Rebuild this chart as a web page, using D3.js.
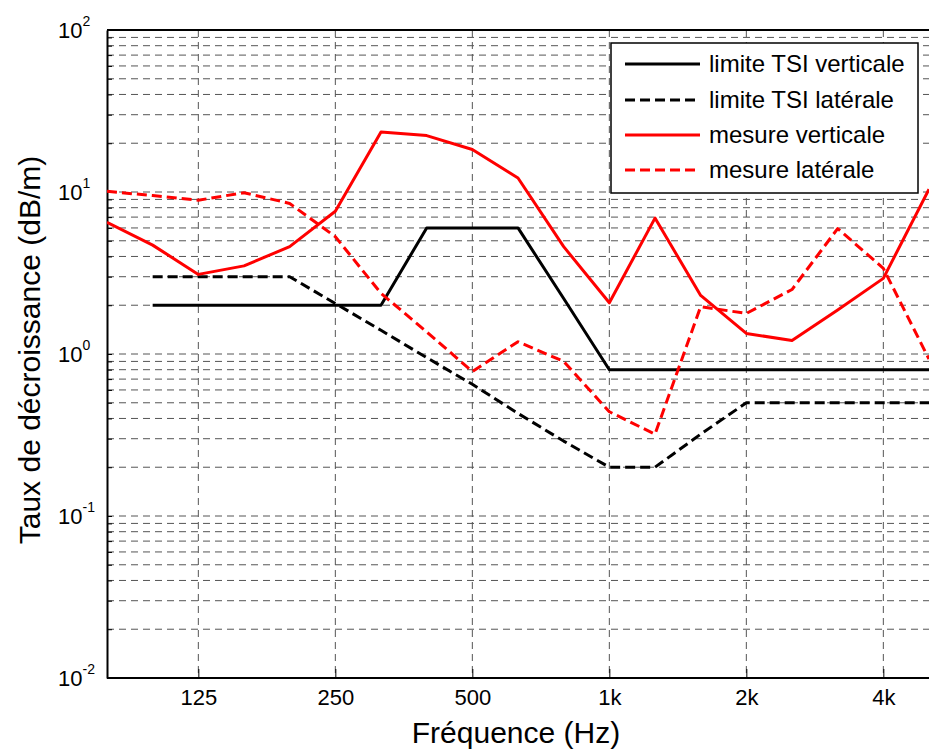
<!DOCTYPE html>
<html>
<head>
<meta charset="utf-8">
<script src="https://cdn.jsdelivr.net/npm/d3@7"></script>
<style>
body { margin: 0; background: #fff; }
text { font-family: "Liberation Sans", Arial, sans-serif; fill: #000; }
</style>
</head>
<body>
<div id="chart"></div>
<script>
// third-octave bands (Hz) and decay rates (dB/m)
const bands = [80, 100, 125, 160, 200, 250, 315, 400, 500, 630, 800, 1000, 1250, 1600, 2000, 2500, 3150, 4000, 5000];
const limiteVert = [null, 2, 2, 2, 2, 2, 2, 6, 6, 6, 2.2, 0.8, 0.8, 0.8, 0.8, 0.8, 0.8, 0.8, 0.8];
const limiteLat = [null, 3, 3, 3, 3, 2.05, 1.4, 0.95, 0.65, 0.43, 0.29, 0.2, 0.2, 0.32, 0.5, 0.5, 0.5, 0.5, 0.5];
const mesureVert = [6.5, 4.7, 3.1, 3.5, 4.6, 7.6, 23.5, 22.3, 18.3, 12.2, 4.6, 2.07, 6.9, 2.3, 1.34, 1.21, 1.87, 2.93, 10.4];
const mesureLat = [10.1, 9.5, 8.9, 9.9, 8.5, 5.3, 2.37, 1.37, 0.78, 1.19, 0.9, 0.44, 0.32, 1.96, 1.78, 2.5, 5.95, 3.38, 0.93];
const xTicks = [125, 250, 500, 1000, 2000, 4000];
const xTickLabels = ["125", "250", "500", "1k", "2k", "4k"];
const yExponents = [-2, -1, 0, 1, 2];
const seriesNames = ["limite TSI verticale", "limite TSI latérale", "mesure verticale", "mesure latérale"];

const width = 929, height = 753;
const plotLeft = 107, plotRight = 929, plotTop = 30, plotBottom = 678;

// nominal band -> exact third-octave centre
const exact = f => 1000 * Math.pow(2, Math.round(3 * Math.log2(f / 1000)) / 3);

const svg = d3.select("#chart").append("svg")
    .attr("width", width)
    .attr("height", height);

const x = d3.scaleLog().domain([exact(80), exact(5000)]).range([plotLeft, plotRight]);
const y = d3.scaleLog().domain([0.01, 100]).range([plotBottom, plotTop]);

svg.append("defs").append("clipPath").attr("id", "plot")
    .append("rect").attr("x", plotLeft).attr("y", plotTop - 2)
    .attr("width", plotRight - plotLeft + 2).attr("height", plotBottom - plotTop + 4);

// grid values: every 1..9 x 10^k
const gridVals = [];
yExponents.slice(0, -1).forEach(e => {
    for (let m = 1; m <= 9; m++) gridVals.push(m * Math.pow(10, e));
});

svg.append("g").selectAll("line")
    .data(gridVals.filter(v => v > 0.01))
    .enter().append("line")
    .attr("x1", plotLeft).attr("x2", plotRight)
    .attr("y1", d => y(d)).attr("y2", d => y(d))
    .attr("stroke", "#555")
    .attr("stroke-width", 1)
    .attr("stroke-dasharray", "7,5");

svg.append("g").selectAll("line")
    .data(xTicks)
    .enter().append("line")
    .attr("x1", d => x(d)).attr("x2", d => x(d))
    .attr("y1", plotTop).attr("y2", plotBottom)
    .attr("stroke", "#555")
    .attr("stroke-width", 1)
    .attr("stroke-dasharray", "7,5");

// axes
const xAxis = d3.axisBottom(x)
    .tickValues(xTicks)
    .tickFormat((d, i) => xTickLabels[i])
    .tickSize(-9)
    .tickPadding(11);

svg.append("g")
    .attr("transform", `translate(0,${plotBottom})`)
    .call(xAxis)
    .call(g => g.select(".domain").attr("stroke", "#000").attr("stroke-width", 2).attr("d", `M${plotLeft},0H${plotRight}`))
    .call(g => g.selectAll(".tick text").style("font-size", "22px").style("font-family", "Liberation Sans, Arial, sans-serif"));

const yAxis = d3.axisLeft(y)
    .tickValues(gridVals.concat([100]))
    .tickFormat("")
    .tickSizeInner(-5)
    .tickSizeOuter(0);

svg.append("g")
    .attr("transform", `translate(${plotLeft},0)`)
    .call(yAxis)
    .call(g => g.select(".domain").attr("stroke", "#000").attr("stroke-width", 2));

svg.append("line")
    .attr("x1", plotLeft).attr("x2", plotRight)
    .attr("y1", plotTop).attr("y2", plotTop)
    .attr("stroke", "#000").attr("stroke-width", 2);

// y tick labels 10^k
const yLab = svg.append("g").selectAll("text")
    .data(yExponents)
    .enter().append("text")
    .attr("x", 58)
    .attr("y", d => y(Math.pow(10, d)) + 8)
    .style("font-size", "22px");
yLab.append("tspan").text("10");
yLab.append("tspan").attr("dy", -12).style("font-size", "14px").text(d => d);

// series
const line = d3.line()
    .defined(d => d.v != null)
    .x(d => x(exact(d.f)))
    .y(d => y(d.v));

const series = [
    { name: seriesNames[0], values: limiteVert, color: "#000", dash: null },
    { name: seriesNames[1], values: limiteLat, color: "#000", dash: "10,5" },
    { name: seriesNames[2], values: mesureVert, color: "#ff0000", dash: null },
    { name: seriesNames[3], values: mesureLat, color: "#ff0000", dash: "10,5" }
];

svg.append("g").attr("clip-path", "url(#plot)")
    .selectAll("path")
    .data(series)
    .enter().append("path")
    .attr("d", s => line(bands.map((f, i) => ({ f: f, v: s.values[i] }))))
    .attr("fill", "none")
    .attr("stroke", s => s.color)
    .attr("stroke-width", 3)
    .attr("stroke-linejoin", "round")
    .attr("stroke-dasharray", s => s.dash);

// axis titles
svg.append("text")
    .attr("x", 516).attr("y", 743)
    .attr("text-anchor", "middle")
    .style("font-size", "30px")
    .text("Fréquence (Hz)");

svg.append("text")
    .attr("transform", "translate(29,350) rotate(-90)")
    .attr("text-anchor", "middle")
    .attr("dy", "0.35em")
    .style("font-size", "30px")
    .text("Taux de décroissance (dB/m)");

// legend
const legend = svg.append("g");
legend.append("rect")
    .attr("x", 611).attr("y", 43)
    .attr("width", 307).attr("height", 150)
    .attr("fill", "#fff").attr("stroke", "#000").attr("stroke-width", 1.5);

const rowY = [64, 100, 135, 170];
const item = legend.selectAll(".item")
    .data(series)
    .enter().append("g")
    .attr("transform", (d, i) => `translate(0,${rowY[i]})`);

item.append("line")
    .attr("x1", 625).attr("x2", 700)
    .attr("stroke", d => d.color)
    .attr("stroke-width", 3)
    .attr("stroke-dasharray", d => d.dash);

item.append("text")
    .attr("x", 709)
    .attr("dy", "0.35em")
    .style("font-size", "24px")
    .text(d => d.name);
</script>
</body>
</html>
